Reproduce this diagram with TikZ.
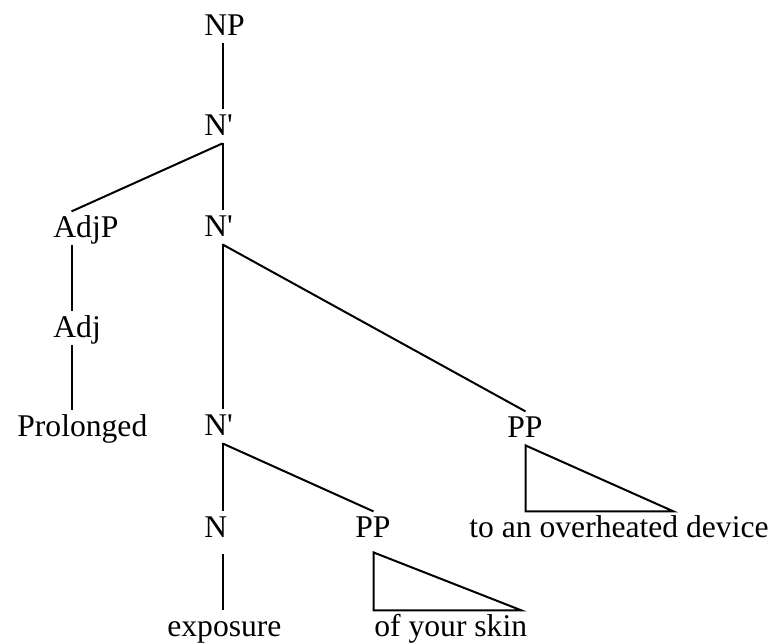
\documentclass[tikz,border=0pt]{standalone}
\usepackage{fontspec}
\setmainfont{Liberation Serif}
\usetikzlibrary{calc}
\newcommand{\hook}{9.25pt}
\newcommand{\lNbar}{N\textquotesingle}

\begin{document}
\begin{tikzpicture} [
        x=0.5pt, y=-0.5pt,
        cat/.style={anchor=base west, inner sep=0pt, text height=12.6pt, text depth=4pt, font=\fontsize{15.8}{19}\selectfont},
        branch/.style={line width=1pt},
        roof/.style={branch, line join=miter}
    ]

    \useasboundingbox (0,0) rectangle (774,643);

    % categories
    \node[cat] (np) at (204,35) {NP};
    \node[cat] (nbar1) at (204,135) {\lNbar};
    \node[cat] (adjp) at (53,237) {AdjP};
    \node[cat] (nbar2) at (204,236) {\lNbar};
    \node[cat] (adj) at (53,337) {Adj};
    \node[cat] (nbar3) at (204,435) {\lNbar};
    \node[cat] (pp1) at (507,437) {PP};
    \node[cat] (n) at (204,537) {N};
    \node[cat] (pp2) at (355,537) {PP};

    % words
    \node[cat] (prolonged) at (17,436) {Prolonged};
    \node[cat] (device) at (469,537) {to an overheated device};
    \node[cat] (exposure) at (167,636) {exposure};
    \node[cat] (skin) at (374,636) {of your skin};

    \foreach \a/\b in {np/nbar1, nbar1/adjp, nbar1/nbar2, adjp/adj, nbar2/nbar3, nbar2/pp1, nbar3/n, nbar3/pp2} {
        \draw[branch] ([xshift=\hook]\a.south west) -- ([xshift=\hook]\b.north west);
    }

    \coordinate (adj foot) at ([xshift=\hook]adj.south west);
    \coordinate (n foot) at ([xshift=\hook, yshift=-4.5pt]n.south west);
    \draw[branch] (adj foot) -- (adj foot |- prolonged.north);
    \draw[branch] (n foot) -- (n foot |- exposure.north);

    \coordinate (pp1 top) at ([xshift=\hook]pp1.south west);
    \coordinate (pp2 top) at ([xshift=\hook, yshift=-3.5pt]pp2.south west);
    \draw[roof] (pp1 top) -- (pp1 top |- device.north) -- ++(74pt,0) -- cycle;
    \draw[roof] (pp2 top) -- (pp2 top |- skin.north) -- ++(74pt,0) -- cycle;

\end{tikzpicture}
\end{document}
